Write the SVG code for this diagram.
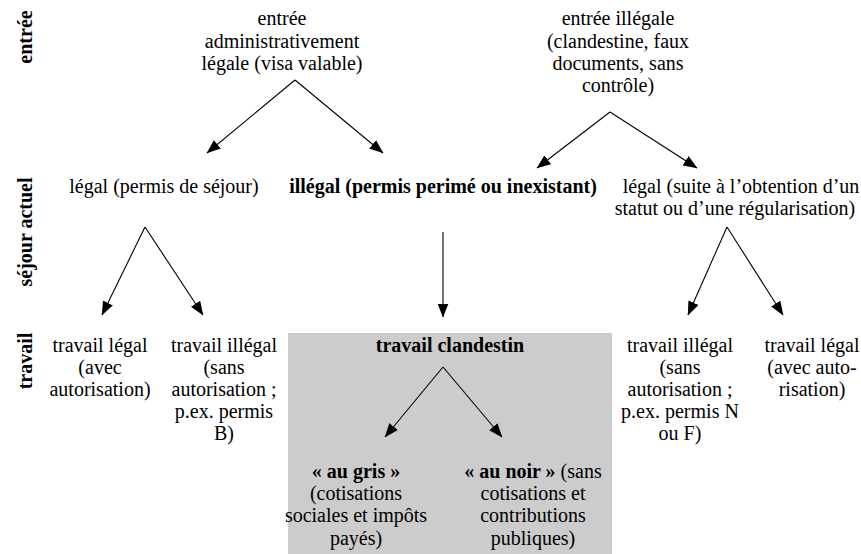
<svg xmlns="http://www.w3.org/2000/svg" width="861" height="554" viewBox="0 0 861 554" font-family="Liberation Serif, Times New Roman, serif">
<style>
text{font-size:20px;fill:#000}
.c{text-anchor:middle}
.b{font-weight:bold}
.ax{stroke:#000;stroke-width:1.1;fill:none;marker-end:url(#ah)}
</style>
<defs>
<marker id="ah" markerUnits="userSpaceOnUse" markerWidth="14" markerHeight="11" refX="13.5" refY="5.5" orient="auto" viewBox="0 0 14 11">
<path d="M0,0 L14,5.5 L0,11 z" fill="#000"/>
</marker>
</defs>
<rect x="288" y="333" width="324" height="221" fill="#cccccc"/>
<g id="labels">
<text class="c b" transform="translate(32,37) rotate(-90)">entrée</text>
<text class="c b" transform="translate(32,232) rotate(-90)">séjour actuel</text>
<text class="c b" transform="translate(32,361) rotate(-90)">travail</text>
</g>
<g id="entree-legale"><text class="c" x="282" y="25">entrée</text><text class="c" x="282" y="48">administrativement</text><text class="c" x="282" y="70">légale (visa valable)</text></g>
<g id="entree-illegale"><text class="c" x="618" y="25">entrée illégale</text><text class="c" x="618" y="48">(clandestine, faux</text><text class="c" x="618" y="70">documents, sans</text><text class="c" x="618" y="92">contrôle)</text></g>
<g id="sejour-legal"><text class="c" x="164" y="193">légal (permis de séjour)</text></g>
<g id="sejour-illegal"><text class="c b" x="443" y="193">illégal (permis perimé ou inexistant)</text></g>
<g id="sejour-regularise"><text class="c" x="741" y="193">légal (suite à l’obtention d’un</text><text class="c" x="735" y="215">statut ou d’une régularisation)</text></g>
<g id="travail-legal-1"><text class="c" x="100" y="352">travail légal</text><text class="c" x="100" y="374">(avec</text><text class="c" x="100" y="396">autorisation)</text></g>
<g id="travail-illegal-1"><text class="c" x="224" y="352">travail illégal</text><text class="c" x="224" y="374">(sans</text><text class="c" x="224" y="396">autorisation ;</text><text class="c" x="224" y="418">p.ex. permis</text><text class="c" x="224" y="440">B)</text></g>
<g id="travail-clandestin"><text class="c b" x="450" y="352">travail clandestin</text></g>
<g id="au-gris"><text class="c b" x="356" y="478">« au gris »</text><text class="c" x="356" y="500">(cotisations</text><text class="c" x="356" y="522">sociales et impôts</text><text class="c" x="356" y="545">payés)</text></g>
<g id="au-noir"><text class="c" x="533" y="478"><tspan class="b">« au noir »</tspan> (sans</text><text class="c" x="533" y="500">cotisations et</text><text class="c" x="533" y="522">contributions</text><text class="c" x="533" y="545">publiques)</text></g>
<g id="travail-illegal-2"><text class="c" x="680" y="352">travail illégal</text><text class="c" x="680" y="374">(sans</text><text class="c" x="680" y="396">autorisation ;</text><text class="c" x="680" y="418">p.ex. permis N</text><text class="c" x="680" y="440">ou F)</text></g>
<g id="travail-legal-2"><text class="c" x="812" y="352">travail légal</text><text class="c" x="812" y="374">(avec auto-</text><text class="c" x="812" y="396">risation)</text></g>
<g id="connectors">
<path class="ax" d="M295,80 L207,153"/>
<path class="ax" d="M295,80 L383,153"/>
<path class="ax" d="M610,112 L537,168"/>
<path class="ax" d="M610,112 L697,168"/>
<path class="ax" d="M145,227 L102,315"/>
<path class="ax" d="M145,227 L203,315"/>
<path class="ax" d="M443,232 L443,317"/>
<path class="ax" d="M727,227 L688,315"/>
<path class="ax" d="M727,227 L783,315"/>
<path class="ax" d="M443,367 L385,437"/>
<path class="ax" d="M443,367 L502,437"/>
</g>
</svg>
